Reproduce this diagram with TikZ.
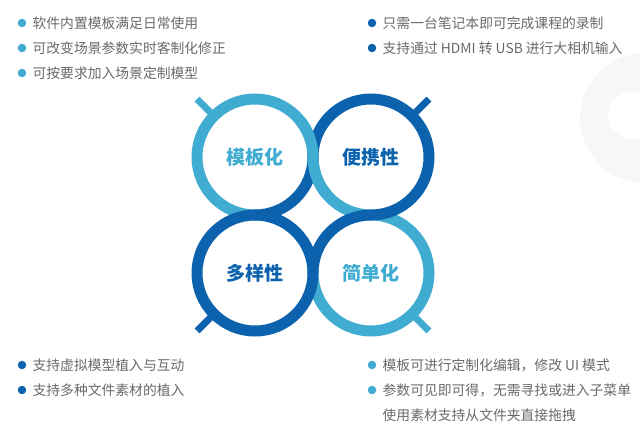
\documentclass[tikz,border=0pt]{standalone}
\usepackage{fontspec}
\usetikzlibrary{positioning}
\newfontfamily\cjk{Noto Sans CJK SC}
\definecolor{qianlan}{RGB}{64,172,209}
\definecolor{shenlan}{RGB}{12,98,172}
\definecolor{wenzi}{RGB}{105,105,105}

\begin{document}
\begin{tikzpicture}[x=1pt, y=1pt,
    ring/.style={line width=11pt},
    tail/.style={line width=7pt},
    dot/.style={circle, fill, inner sep=0pt, minimum size=8.5pt},
    item/.style={anchor=west, inner sep=0pt, text=wenzi, font=\cjk\fontsize{13.8}{16}\selectfont},
    title/.style={font=\cjk\bfseries\fontsize{19}{22}\selectfont}]

    \useasboundingbox (0,0) rectangle (640,440);

    % Faint mark in the corner
    \fill[black!3, even odd rule] (645,322) circle[radius=65] (632,325) circle[radius=24];

    % Circle centres
    \coordinate (tl) at (255,283);
    \coordinate (tr) at (371,283);
    \coordinate (bl) at (255,167);
    \coordinate (br) at (371,167);
    \def\r{58}

    % Tails
    \draw[tail, qianlan] (tl) ++(135:\r) -- ++(135:24);
    \draw[tail, shenlan] (tr) ++(45:\r) -- ++(45:24);
    \draw[tail, shenlan] (bl) ++(225:\r) -- ++(225:24);
    \draw[tail, qianlan] (br) ++(-45:\r) -- ++(-45:24);

    % Light arcs
    \draw[ring, qianlan] (tl) ++(0:\r) arc[start angle=0, end angle=270, radius=\r];
    \draw[ring, qianlan] (tr) ++(180:\r) arc[start angle=180, end angle=270, radius=\r];
    \draw[ring, qianlan] (br) ++(180:\r) arc[start angle=180, end angle=450, radius=\r];

    % Dark arcs
    \draw[ring, shenlan] (tr) ++(-90:\r) arc[start angle=-90, end angle=180, radius=\r];
    \draw[ring, shenlan] (tl) ++(270:\r) arc[start angle=270, end angle=360, radius=\r];
    \draw[ring, shenlan] (bl) circle[radius=\r];
    \draw[ring, shenlan] (br) ++(90:\r) arc[start angle=90, end angle=180, radius=\r];

    % Light strand over the upper crossing
    \draw[ring, qianlan] (tl) ++(40:\r) arc[start angle=40, end angle=0, radius=\r]
        arc[start angle=180, end angle=220, radius=\r];

    % Labels
    \node[title, text=qianlan] (muban) at (tl) {模板化};
    \node[title, text=shenlan] (bianxie) at (tr) {便携性};
    \node[title, text=shenlan] (duoyang) at (bl) {多样性};
    \node[title, text=qianlan] (jiandan) at (br) {简单化};

    % Top left list
    \foreach \t [count=\i] in {软件内置模板满足日常使用, 可改变场景参数实时客制化修正, 可按要求加入场景定制模型} {
        \node[dot, qianlan] (tldot\i) at (22, 442-25*\i) {};
        \node[item, right=6pt of tldot\i] (tlitem\i) {\t};
    }

    % Top right list
    \foreach \t [count=\i] in {只需一台笔记本即可完成课程的录制, 支持通过 HDMI 转 USB 进行大相机输入} {
        \node[dot, shenlan] (trdot\i) at (372, 442-25*\i) {};
        \node[item, right=6pt of trdot\i] (tritem\i) {\t};
    }

    % Bottom left list
    \foreach \t [count=\i] in {支持虚拟模型植入与互动, 支持多种文件素材的植入} {
        \node[dot, shenlan] (bldot\i) at (22, 100-25*\i) {};
        \node[item, right=6pt of bldot\i] (blitem\i) {\t};
    }

    % Bottom right list
    \foreach \t [count=\i] in {模板可进行定制化编辑，修改 UI 模式, 参数可见即可得，无需寻找或进入子菜单} {
        \node[dot, qianlan] (brdot\i) at (372, 100-25*\i) {};
        \node[item, right=6pt of brdot\i] (britem\i) {\t};
    }
    \node[item] (britem3) at ([yshift=-25pt]britem2.west) {使用素材支持从文件夹直接拖拽};

\end{tikzpicture}
\end{document}
